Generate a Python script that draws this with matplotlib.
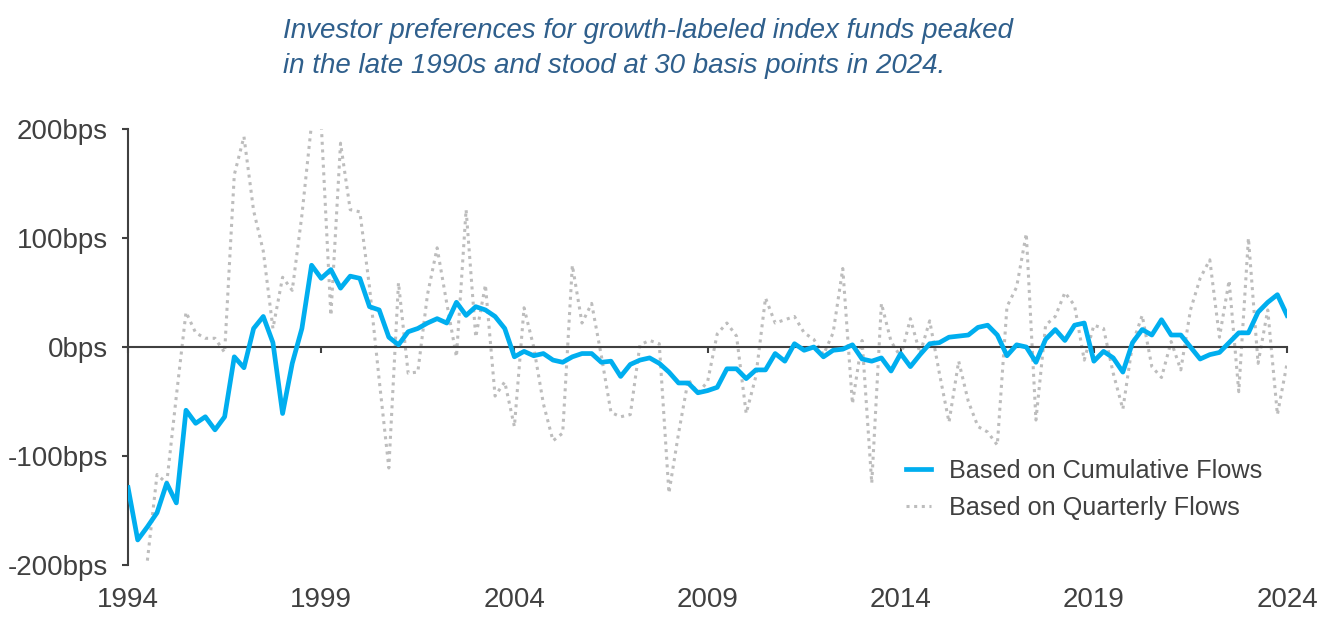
import numpy as np
import matplotlib
matplotlib.use("Agg")
import matplotlib.pyplot as plt

plt.rcParams['font.family'] = ['Liberation Sans', 'DejaVu Sans']

# quarterly observations, 1994Q1 .. 2024Q1
start_year = 1994
cumulative = [
    -129, -177, -165, -152, -125, -143, -58, -70, -64, -76,
    -64, -9, -19, 17, 28, 4, -61, -15, 17, 75,
    63, 71, 54, 65, 63, 37, 34, 9, 2, 14,
    17, 22, 26, 22, 41, 29, 37, 34, 28, 17,
    -9, -4, -8, -6, -12, -14, -9, -6, -6, -14,
    -13, -27, -16, -12, -10, -15, -23, -33, -33, -42,
    -40, -37, -20, -20, -29, -21, -21, -6, -13, 3,
    -3, 0, -9, -3, -2, 2, -11, -13, -10, -22,
    -6, -18, -7, 3, 4, 9, 10, 11, 18, 20,
    11, -8, 2, 0, -14, 7, 16, 6, 20, 22,
    -13, -4, -10, -23, 4, 16, 11, 25, 11, 11,
    0, -11, -7, -5, 4, 13, 13, 32, 41, 48,
    29,
]
quarterly = [
    np.nan, np.nan, -196, -117, -125, -45, 32, 13, 8, 8,
    -5, 158, 193, 125, 88, 17, 64, 52, 121, 205,
    205, 29, 187, 126, 124, 55, -30, -111, 59, -24,
    -23, 48, 91, 40, -9, 126, 9, 57, -45, -32,
    -73, 36, 0, -52, -86, -79, 75, 22, 40, -8,
    -60, -64, -62, 2, 6, 3, -134, -79, -30, -42,
    -32, 12, 22, 10, -61, -27, 45, 22, 25, 28,
    13, 7, -7, 13, 72, -52, 6, -125, 40, 5,
    -9, 26, -6, 24, -24, -69, -13, -50, -73, -78,
    -90, 37, 55, 104, -67, 20, 28, 50, 38, -12,
    20, 17, -24, -57, 3, 29, -18, -28, 5, -21,
    34, 63, 80, 9, 61, -41, 100, -15, 34, -62,
    -15,
]
year_ticks = [1994, 1999, 2004, 2009, 2014, 2019, 2024]
bps_ticks = [-200, -100, 0, 100, 200]
bps_labels = ['-200bps', '-100bps', '0bps', '100bps', '200bps']

x = start_year + np.arange(len(cumulative)) / 4.0

axis_col = '#404040'
fig = plt.figure(figsize=(13.27, 6.38), dpi=100)
ax = fig.add_axes([0.0965, 0.1144, 0.8734, 0.6834])

ax.plot(x, quarterly, color='#BDBDBD', lw=2.2, linestyle=(0, (1, 1.5)),
        dash_capstyle='butt', label='Based on Quarterly Flows', zorder=2)
ax.plot(x, cumulative, color='#00AEEF', lw=3.4, label='Based on Cumulative Flows',
        zorder=3)

ax.set_xlim(1994, 2024)
ax.set_ylim(-200, 200)

for s in ['top', 'right']:
    ax.spines[s].set_visible(False)
ax.spines['bottom'].set_position(('data', 0))
for s in ['left', 'bottom']:
    ax.spines[s].set_color(axis_col)
    ax.spines[s].set_linewidth(1.5)

ax.set_xticks(year_ticks)
ax.tick_params(axis='x', direction='out', length=4.5, width=1.5, color=axis_col,
               labelbottom=False)
ax.set_yticks(bps_ticks)
ax.set_yticklabels(bps_labels)
ax.tick_params(axis='y', direction='out', length=4.5, width=1.5, color=axis_col,
               labelsize=20, labelcolor=axis_col, pad=10)

sec = ax.secondary_xaxis(0.0)
sec.set_xticks(year_ticks)
sec.tick_params(length=0, labelsize=20, labelcolor=axis_col, pad=16)
sec.spines['bottom'].set_visible(False)

handles, labels = ax.get_legend_handles_labels()
leg = ax.legend(handles[::-1], labels[::-1], loc='center left',
                bbox_to_anchor=(0.675, 0.233), bbox_transform=fig.transFigure,
                fontsize=18.2, frameon=True, facecolor='white', edgecolor='none',
                framealpha=1, handlelength=1.0, handletextpad=0.7,
                labelspacing=0.5, borderaxespad=0)
for t in leg.get_texts():
    t.set_color(axis_col)

title_col = '#2F5F8C'
fig.text(0.2133, 0.9404, 'Investor preferences for growth-labeled index funds peaked',
         fontsize=20, style='italic', color=title_col, va='baseline', ha='left')
fig.text(0.2133, 0.8856, 'in the late 1990s and stood at 30 basis points in 2024.',
         fontsize=20, style='italic', color=title_col, va='baseline', ha='left')

fig.savefig('out.png', dpi=100)
